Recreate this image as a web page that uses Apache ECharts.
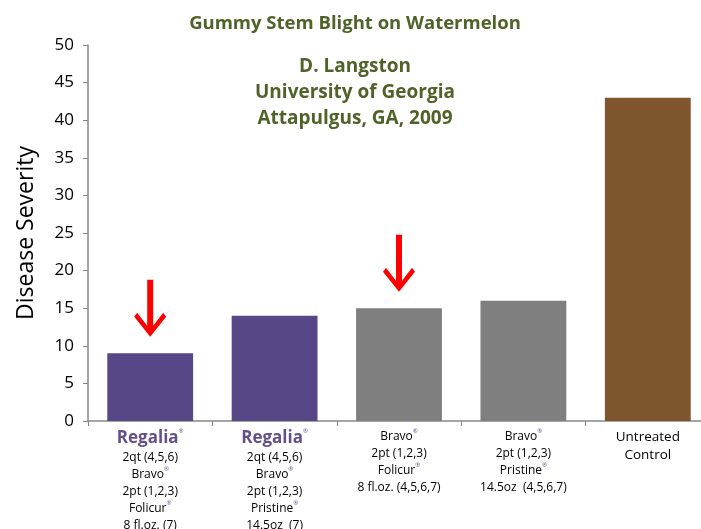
<!DOCTYPE html>
<html>
<head>
<meta charset="utf-8">
<title>Gummy Stem Blight on Watermelon</title>
<script src="https://cdn.jsdelivr.net/npm/echarts@6/dist/echarts.min.js"></script>
<style>
  html, body { margin: 0; padding: 0; background: #fff; }
  #chart { width: 701px; height: 529px; }
</style>
</head>
<body>
<div id="chart"></div>
<script>
// treatment labels (rich text markup), one per bar
const categories = [
  '{brand|Regalia}{sup|®}\n{t|2qt (4,5,6)}\n{t|Bravo}{sup|®}\n{t|2pt (1,2,3)}\n{t|Folicur}{sup|®}\n{t|8 fl.oz. (7)}',
  '{brand|Regalia}{sup|®}\n{t|2qt (4,5,6)}\n{t|Bravo}{sup|®}\n{t|2pt (1,2,3)}\n{t|Pristine}{sup|®}\n{t|14.5oz  (7)}',
  '{t|Bravo}{sup|®}\n{t|2pt (1,2,3)}\n{t|Folicur}{sup|®}\n{t|8 fl.oz. (4,5,6,7)}',
  '{t|Bravo}{sup|®}\n{t|2pt (1,2,3)}\n{t|Pristine}{sup|®}\n{t|14.5oz  (4,5,6,7)}',
  '{big|Untreated}\n{big|Control}'
]
const severity = [9, 14, 15, 16, 43]
const barColors = ['#584787', '#584787', '#7f7f7f', '#7f7f7f', '#7f552e']
// bars that get a red arrow above them
const arrowBars = [0, 2]

const green = '#4f6228'
const font = 'Open Sans'
const arrowPath = 'path://M13,0 L19,0 L19,46 L29,33 L32,37 L16,57 L0,37 L3,33 L13,46 Z'

const chart = echarts.init(document.getElementById('chart'))
chart.setOption({
  animation: false,
  textStyle: { fontFamily: font },
  title: [
    {
      text: 'Gummy Stem Blight on Watermelon',
      left: 350,
      textAlign: 'center',
      top: 9,
      textStyle: { fontFamily: font, fontSize: 18.5, fontWeight: 'bold', color: green }
    },
    {
      text: 'D. Langston\nUniversity of Georgia\nAttapulgus, GA, 2009',
      left: 350,
      textAlign: 'center',
      top: 49,
      textStyle: { fontFamily: font, fontSize: 19, fontWeight: 'bold', color: green, lineHeight: 26 }
    }
  ],
  grid: {
    left: 88,
    right: -9,
    top: 45,
    bottom: 108,
    outerBoundsMode: 'none'
  },
  xAxis: {
    type: 'category',
    data: categories,
    axisLine: { lineStyle: { color: '#888', width: 1.5 } },
    axisTick: { show: true, length: 5, lineStyle: { color: '#888' } },
    axisLabel: {
      interval: 0,
      margin: 7,
      color: '#000',
      lineHeight: 17,
      rich: {
        brand: { fontFamily: font, fontSize: 17, fontWeight: 'bold', color: '#644f8a', lineHeight: 21 },
        sup: { fontFamily: font, fontSize: 6, color: '#644f8a', verticalAlign: 'top' },
        t: { fontFamily: font, fontSize: 12, color: '#000', lineHeight: 17 },
        big: { fontFamily: font, fontSize: 13.5, color: '#000', lineHeight: 18 }
      }
    }
  },
  yAxis: {
    type: 'value',
    min: 0,
    max: 50,
    interval: 5,
    name: 'Disease Severity',
    nameLocation: 'middle',
    nameGap: 50,
    nameTextStyle: { fontFamily: font, fontSize: 23, color: '#000' },
    splitLine: { show: false },
    axisLine: { show: true, lineStyle: { color: '#888', width: 1.5 } },
    axisTick: { show: true, length: 5, lineStyle: { color: '#888' } },
    axisLabel: { fontFamily: font, fontSize: 17, color: '#000', margin: 14 }
  },
  series: [
    {
      type: 'bar',
      barWidth: '69%',
      data: severity.map((v, i) => ({ value: v, itemStyle: { color: barColors[i] } }))
    },
    {
      type: 'scatter',
      symbol: arrowPath,
      symbolSize: [32, 57],
      symbolOffset: [0, -45],
      itemStyle: { color: '#ff0000', opacity: 1 },
      silent: true,
      data: arrowBars.map(i => [i, severity[i]])
    }
  ]
})
</script>
</body>
</html>
